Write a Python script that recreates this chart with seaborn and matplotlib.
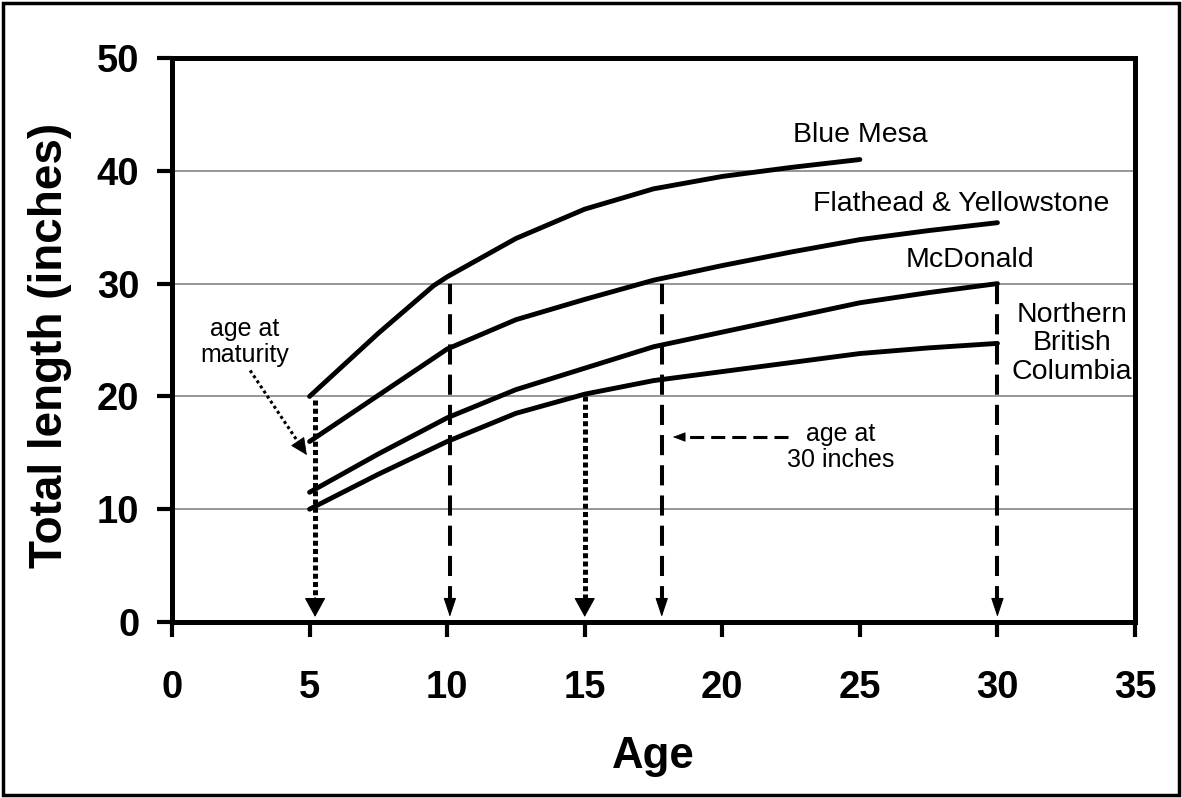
import matplotlib
matplotlib.use("Agg")
import matplotlib.pyplot as plt
import seaborn as sns
import pandas as pd
from matplotlib.patches import Rectangle

# ---------------- data ----------------
ages_blue_mesa = [5, 7.5, 9.5, 10, 12.5, 15, 17.5, 20, 22.5, 25]
len_blue_mesa = [20.0, 25.6, 29.8, 30.6, 34.0, 36.6, 38.4, 39.5, 40.3, 41.0]

ages_other = [5, 7.5, 10, 12.5, 15, 17.5, 20, 22.5, 25, 27.5, 30]
len_flathead = [16.0, 20.1, 24.2, 26.8, 28.6, 30.3, 31.6, 32.8, 33.9, 34.7, 35.4]
len_mcdonald = [11.5, 14.9, 18.1, 20.6, 22.5, 24.4, 25.7, 27.0, 28.3, 29.2, 30.0]
len_nbc = [10.0, 13.1, 16.0, 18.5, 20.2, 21.4, 22.2, 23.0, 23.8, 24.3, 24.7]

lake_names = ["Blue Mesa", "Flathead & Yellowstone", "McDonald",
              "Northern\nBritish\nColumbia"]

# age at maturity (dotted arrows) and age at 30 inches (dashed arrows)
maturity_age = [5.2, 15.0]
maturity_len = [19.7, 20.0]
age_at_30 = [10.1, 17.8, 30.0]
len_at_30 = [30.0, 30.0, 30.0]

x_ticks = [0, 5, 10, 15, 20, 25, 30, 35]
y_ticks = [0, 10, 20, 30, 40, 50]

# ---------------- figure ----------------
sns.set_style("white")
plt.rcParams["font.family"] = ["Liberation Sans", "DejaVu Sans"]
plt.rcParams["text.color"] = "black"
plt.rcParams["axes.labelcolor"] = "black"
plt.rcParams["xtick.color"] = "black"
plt.rcParams["ytick.color"] = "black"

fig = plt.figure(figsize=(11.82, 7.98), dpi=100)
ax = fig.add_axes([0.14552, 0.22055, 0.81472, 0.70677])

df = pd.concat([
    pd.DataFrame({"Age": ages_blue_mesa, "Length": len_blue_mesa, "Lake": lake_names[0]}),
    pd.DataFrame({"Age": ages_other, "Length": len_flathead, "Lake": lake_names[1]}),
    pd.DataFrame({"Age": ages_other, "Length": len_mcdonald, "Lake": lake_names[2]}),
    pd.DataFrame({"Age": ages_other, "Length": len_nbc, "Lake": lake_names[3]}),
])
for name in lake_names:
    sub = df[df["Lake"] == name]
    sns.lineplot(data=sub, x="Age", y="Length", ax=ax, color="black",
                 lw=3.5, estimator=None, sort=False, legend=False,
                 solid_capstyle="round", solid_joinstyle="round", zorder=4)

TIP = 0.45


def vertical_arrow(x, y0, dotted):
    if dotted:
        hl_units = 1.6
        ls = (0, (1, 0.65))
        lw = 3.6
        style = "-|>,head_length=0.62,head_width=0.34"
    else:
        hl_units = 1.5
        ls = (0, (5, 2.5))
        lw = 2.9
        style = "-|>,head_length=0.6,head_width=0.2"
    ax.plot([x, x], [y0, TIP + hl_units], color="black", lw=lw, linestyle=ls,
            dash_capstyle="butt", zorder=3)
    ax.annotate("", xy=(x, TIP), xytext=(x, TIP + hl_units * 1.08),
                arrowprops=dict(arrowstyle=style, color="black", lw=0.8,
                                shrinkA=0, shrinkB=0, mutation_scale=20),
                zorder=3)


for xa, ya in zip(maturity_age, maturity_len):
    vertical_arrow(xa, ya, dotted=True)
for xa, ya in zip(age_at_30, len_at_30):
    vertical_arrow(xa, ya, dotted=False)

# "age at maturity" pointer (thin dotted)
mat_start = (2.84, 22.3)
mat_tip = (4.9, 14.8)
frac = 0.15
mat_base = (mat_tip[0] + (mat_start[0] - mat_tip[0]) * frac,
            mat_tip[1] + (mat_start[1] - mat_tip[1]) * frac)
ax.plot([mat_start[0], mat_base[0]], [mat_start[1], mat_base[1]], color="black",
        lw=2.2, linestyle=(0, (1, 1)), dash_capstyle="butt")
ax.annotate("", xy=mat_tip, xytext=mat_base,
            arrowprops=dict(arrowstyle="-|>,head_length=0.55,head_width=0.26",
                            color="black", lw=0.6, shrinkA=0, shrinkB=0,
                            mutation_scale=20))

# "age at 30 inches" pointer (thin dashed, horizontal)
p30_start = (22.4, 16.4)
p30_tip = (18.2, 16.4)
ax.plot([p30_start[0], p30_tip[0] + 0.4], [p30_start[1], p30_tip[1]], color="black",
        lw=2.2, linestyle=(0, (4.6, 2.3)), dash_capstyle="butt")
ax.annotate("", xy=p30_tip, xytext=(p30_tip[0] + 0.44, p30_tip[1]),
            arrowprops=dict(arrowstyle="-|>,head_length=0.4,head_width=0.15",
                            color="black", lw=0.6, shrinkA=0, shrinkB=0,
                            mutation_scale=20))

# lake labels
label_x = [25.0, 28.7, 29.0, 32.7]
label_y = [43.2, 37.1, 32.1, 24.7]
for name, lx, ly in zip(lake_names, label_x, label_y):
    ax.text(lx, ly, name, ha="center", va="center", fontsize=20.5,
            linespacing=1.12, color="black")

ax.text(2.65, 24.8, "age at\nmaturity", ha="center", va="center",
        fontsize=18, linespacing=1.1, color="black")
ax.text(24.3, 15.55, "age at\n30 inches", ha="center", va="center",
        fontsize=18, linespacing=1.1, color="black")

# axes styling
ax.set_xlim(0, 35)
ax.set_ylim(0, 50)
ax.set_xticks(x_ticks)
ax.set_yticks(y_ticks)
ax.set_xticklabels([str(t) for t in x_ticks], fontsize=27.5, fontweight="bold",
                   color="black")
ax.set_yticklabels([str(t) for t in y_ticks], fontsize=27.5, fontweight="bold",
                   color="black")
ax.tick_params(axis="both", direction="out", length=10.5, width=3,
               color="black", labelcolor="black",
               bottom=True, left=True, top=False, right=False)
ax.tick_params(axis="x", pad=24)
ax.tick_params(axis="y", pad=13)

ax.set_axisbelow(True)
ax.yaxis.grid(True, color="#7a7a7a", lw=1.1)
ax.xaxis.grid(False)

for side in ["left", "right", "top", "bottom"]:
    ax.spines[side].set_visible(True)
    ax.spines[side].set_color("black")
    ax.spines[side].set_linewidth(3.6)
    ax.spines[side].set_zorder(5)

ax.set_xlabel("Age", fontsize=31.5, fontweight="bold", color="black")
ax.set_ylabel("Total length (inches)", fontsize=33, fontweight="bold", color="black")
ax.xaxis.label.set_va("center")
ax.yaxis.label.set_va("center")
ax.xaxis.set_label_coords(0.5, -0.238)
ax.yaxis.set_label_coords(-0.127, 0.49)

fig.patches.append(Rectangle((0.0025, 0.0035), 0.995, 0.993,
                             transform=fig.transFigure, fill=False,
                             edgecolor="black", lw=2.5))

fig.savefig("out.png", dpi=100)
